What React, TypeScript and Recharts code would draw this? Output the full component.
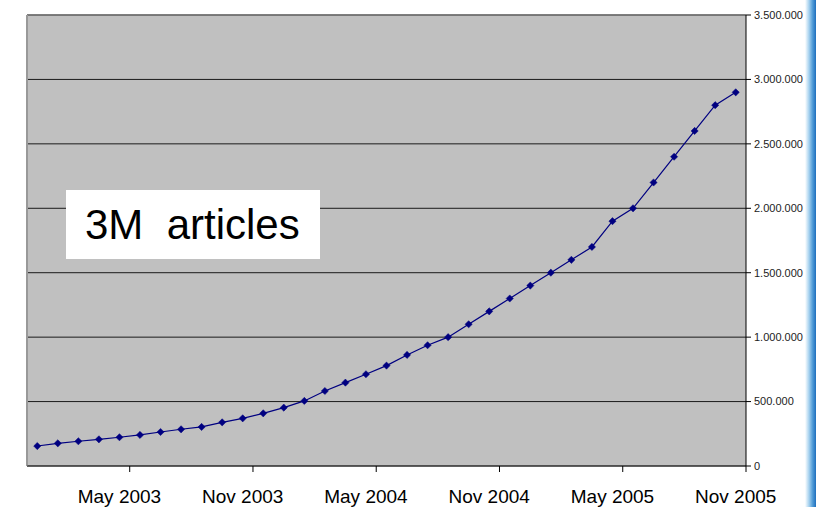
import { LineChart, Line, XAxis, YAxis, CartesianGrid, ReferenceLine } from 'recharts';

// monthly article count, Jan 2003 .. Nov 2005
const months = [
  'Jan 2003', 'Feb 2003', 'Mar 2003', 'Apr 2003', 'May 2003', 'Jun 2003', 'Jul 2003',
  'Aug 2003', 'Sep 2003', 'Oct 2003', 'Nov 2003', 'Dec 2003', 'Jan 2004', 'Feb 2004',
  'Mar 2004', 'Apr 2004', 'May 2004', 'Jun 2004', 'Jul 2004', 'Aug 2004', 'Sep 2004',
  'Oct 2004', 'Nov 2004', 'Dec 2004', 'Jan 2005', 'Feb 2005', 'Mar 2005', 'Apr 2005',
  'May 2005', 'Jun 2005', 'Jul 2005', 'Aug 2005', 'Sep 2005', 'Oct 2005', 'Nov 2005',
];

const articles = [
  155000, 176000, 192000, 207000, 223000, 241000, 264000, 285000, 303000, 339000,
  370000, 409000, 453000, 505000, 582000, 647000, 712000, 779000, 862000, 937000,
  1000000, 1100000, 1200000, 1300000, 1400000, 1500000, 1600000, 1700000, 1900000, 2000000,
  2200000, 2400000, 2600000, 2800000, 2900000,
];

const labelTicks = [4, 10, 16, 22, 28, 34];
const markTicks = [4.5, 10.5, 16.5, 22.5, 28.5, 34.5];
const valueTicks = [0, 500000, 1000000, 1500000, 2000000, 2500000, 3000000, 3500000];

const data = articles.map((v, i) => ({ idx: i, month: months[i], articles: v }));

const font = '"Liberation Sans", Arial, Helvetica, sans-serif';
const navy = '#000080';

const fmt = (v: number) => String(v).replace(/\B(?=(\d{3})+(?!\d))/g, '.');

const Diamond = ({ cx, cy }: any) => {
  if (cx == null || cy == null) return null;
  const r = 3.6;
  return (
    <polygon
      points={`${cx},${cy - r} ${cx + r},${cy} ${cx},${cy + r} ${cx - r},${cy}`}
      fill={navy}
      stroke={navy}
      strokeWidth={0.5}
    />
  );
};

const MonthTick = ({ x, y, payload }: any) => (
  <text x={x} y={y} dy={31} textAnchor="middle" fontSize={19} fill="#000" fontFamily={font}>
    {months[payload.value]}
  </text>
);

export default function App() {
  return (
    <div style={{ position: 'absolute', left: 0, top: 0, width: 816, height: 507, background: '#fff', overflow: 'hidden' }}>
      <LineChart width={816} height={507} data={data} margin={{ top: 15, right: 0, bottom: 0, left: 27 }}>
        <CartesianGrid vertical={false} fill="#c0c0c0" fillOpacity={1} stroke="#1a1a1a" />
        {/* labels sit under the month itself */}
        <XAxis
          xAxisId="b"
          type="number"
          dataKey="idx"
          domain={[-0.5, 34.5]}
          ticks={labelTicks}
          height={35}
          tickSize={0}
          tickMargin={0}
          axisLine={false}
          tickLine={false}
          tick={<MonthTick />}
        />
        {/* tick marks sit between months */}
        <XAxis
          xAxisId="a"
          type="number"
          dataKey="idx"
          domain={[-0.5, 34.5]}
          ticks={markTicks}
          height={6}
          tickSize={6}
          tick={() => <g />}
          axisLine={{ stroke: '#333' }}
          tickLine={{ stroke: '#000' }}
        />
        <YAxis
          orientation="right"
          width={70}
          domain={[0, 3500000]}
          ticks={valueTicks}
          tickFormatter={fmt}
          tickSize={5}
          tickMargin={3}
          axisLine={{ stroke: '#000' }}
          tickLine={{ stroke: '#000' }}
          tick={{ fontSize: 11, fill: '#222', fontFamily: font }}
        />
        <ReferenceLine xAxisId="a" y={3500000} stroke="#7a7a7a" strokeWidth={1.5} />
        <ReferenceLine xAxisId="a" x={-0.5} stroke="#999" strokeWidth={2} />
        <Line
          xAxisId="a"
          type="linear"
          dataKey="articles"
          stroke={navy}
          strokeWidth={1.2}
          dot={<Diamond />}
          activeDot={false}
          isAnimationActive={false}
        />
      </LineChart>
      <div
        style={{
          position: 'absolute', left: 66, top: 190, width: 254, height: 69, background: '#fff',
          fontFamily: font, fontSize: 42, color: '#000', display: 'flex', alignItems: 'center',
          paddingLeft: 19, boxSizing: 'border-box', whiteSpace: 'pre',
        }}
      >
        3M  articles
      </div>
      <div
        style={{
          position: 'absolute', left: 805, top: 0, width: 11, height: 507,
          background: 'linear-gradient(to right, #ffffff, #a9d3ef 35%, #4f9ad6 70%, #1f6fbd)',
        }}
      />
    </div>
  );
}
